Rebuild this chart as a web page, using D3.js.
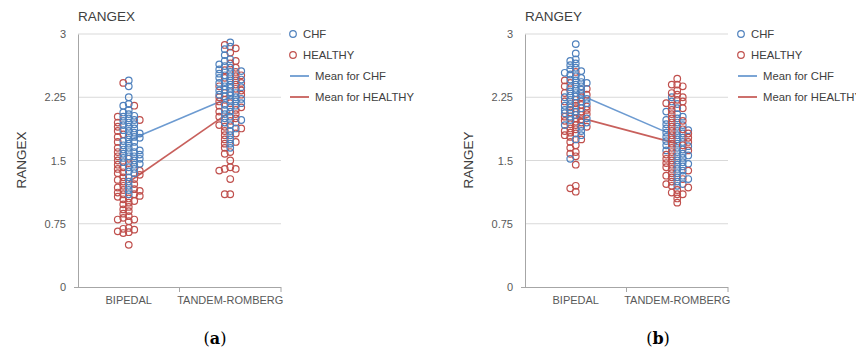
<!DOCTYPE html>
<html>
<head>
<meta charset="utf-8">
<script src="https://cdn.jsdelivr.net/npm/d3@7"></script>
<style>
  body { margin: 0; background: #fff; }
  svg { display: block; font-family: "Liberation Sans", Arial, sans-serif; }
</style>
</head>
<body>
<svg id="chart" width="856" height="350"></svg>
<script>
// ---------------- DATA ----------------
const categories = ["BIPEDAL", "TANDEM-ROMBERG"];
const seriesNames = ["CHF", "HEALTHY"];
const meanNames = ["Mean for CHF", "Mean for HEALTHY"];
const yTicks = [0, 0.75, 1.5, 2.25, 3];

// Panel (a) RANGEX
const rangexBipedalCHF = [2.45, 2.38, 2.25, 2.17, 2.15, 2.1, 2.07, 2.05, 2.03, 2.02, 2.0, 1.98, 1.97, 1.95, 1.93, 1.92, 1.9, 1.88, 1.86, 1.85, 1.83, 1.82, 1.8, 1.78, 1.77, 1.75, 1.73, 1.72, 1.7, 1.68, 1.66, 1.65, 1.63, 1.62, 1.6, 1.6, 1.58, 1.57, 1.55, 1.55, 1.53, 1.52, 1.5, 1.48, 1.46, 1.45, 1.42, 1.4, 1.37, 1.35, 1.3, 1.25, 1.2, 1.15, 1.1];
const rangexBipedalHealthy = [2.42, 2.15, 2.02, 1.98, 1.95, 1.9, 1.85, 1.81, 1.78, 1.72, 1.65, 1.6, 1.55, 1.52, 1.5, 1.47, 1.45, 1.42, 1.4, 1.38, 1.36, 1.35, 1.33, 1.3, 1.28, 1.27, 1.25, 1.22, 1.2, 1.18, 1.16, 1.15, 1.14, 1.12, 1.1, 1.1, 1.08, 1.07, 1.05, 1.04, 1.02, 1.0, 0.98, 0.95, 0.92, 0.9, 0.87, 0.84, 0.82, 0.8, 0.8, 0.78, 0.7, 0.69, 0.68, 0.66, 0.65, 0.64, 0.5];
const rangexTandemCHF = [2.9, 2.85, 2.82, 2.75, 2.7, 2.68, 2.64, 2.62, 2.6, 2.58, 2.56, 2.55, 2.53, 2.51, 2.5, 2.48, 2.46, 2.45, 2.43, 2.42, 2.4, 2.38, 2.37, 2.36, 2.34, 2.33, 2.31, 2.3, 2.28, 2.27, 2.26, 2.25, 2.23, 2.22, 2.2, 2.18, 2.16, 2.15, 2.13, 2.1, 2.08, 2.05, 2.02, 2.0, 1.98, 1.95, 1.92, 1.88, 1.85, 1.8, 1.75, 1.7, 1.65];
const rangexTandemHealthy = [2.87, 2.83, 2.78, 2.68, 2.65, 2.6, 2.57, 2.55, 2.51, 2.5, 2.48, 2.45, 2.42, 2.4, 2.38, 2.35, 2.33, 2.3, 2.28, 2.25, 2.22, 2.2, 2.18, 2.15, 2.13, 2.1, 2.08, 2.05, 2.02, 2.0, 1.97, 1.95, 1.92, 1.9, 1.88, 1.85, 1.82, 1.8, 1.75, 1.72, 1.7, 1.65, 1.6, 1.58, 1.5, 1.42, 1.4, 1.4, 1.38, 1.28, 1.1, 1.1];
const rangexMeanCHF = [1.74, 2.25];
const rangexMeanHealthy = [1.245, 2.08];

// Panel (b) RANGEY
const rangeyBipedalCHF = [2.88, 2.77, 2.7, 2.68, 2.65, 2.63, 2.6, 2.58, 2.56, 2.54, 2.52, 2.5, 2.48, 2.46, 2.45, 2.43, 2.42, 2.4, 2.38, 2.37, 2.35, 2.34, 2.32, 2.3, 2.29, 2.27, 2.26, 2.25, 2.23, 2.22, 2.2, 2.18, 2.17, 2.15, 2.13, 2.12, 2.1, 2.08, 2.06, 2.04, 2.02, 2.0, 1.98, 1.95, 1.92, 1.9, 1.85, 1.8, 1.75, 1.52];
const rangeyBipedalHealthy = [2.55, 2.45, 2.42, 2.38, 2.35, 2.3, 2.28, 2.25, 2.22, 2.2, 2.18, 2.16, 2.15, 2.14, 2.12, 2.1, 2.1, 2.08, 2.07, 2.05, 2.04, 2.02, 2.0, 1.99, 1.97, 1.96, 1.95, 1.93, 1.92, 1.9, 1.88, 1.87, 1.85, 1.83, 1.82, 1.8, 1.78, 1.75, 1.72, 1.68, 1.65, 1.6, 1.58, 1.55, 1.45, 1.2, 1.17, 1.13];
const rangeyTandemCHF = [2.25, 2.2, 2.17, 2.12, 2.08, 2.05, 2.02, 2.0, 1.98, 1.95, 1.93, 1.92, 1.9, 1.88, 1.86, 1.85, 1.83, 1.82, 1.8, 1.78, 1.77, 1.75, 1.73, 1.72, 1.7, 1.68, 1.67, 1.65, 1.63, 1.62, 1.6, 1.58, 1.56, 1.55, 1.53, 1.5, 1.48, 1.46, 1.45, 1.43, 1.4, 1.38, 1.35, 1.32, 1.3, 1.28, 1.25, 1.22, 1.2];
const rangeyTandemHealthy = [2.47, 2.4, 2.4, 2.38, 2.33, 2.3, 2.28, 2.25, 2.22, 2.2, 2.18, 2.15, 2.12, 2.1, 2.05, 2.0, 1.97, 1.95, 1.9, 1.87, 1.85, 1.82, 1.8, 1.77, 1.75, 1.72, 1.7, 1.68, 1.65, 1.62, 1.6, 1.57, 1.55, 1.52, 1.5, 1.47, 1.45, 1.42, 1.4, 1.38, 1.35, 1.32, 1.3, 1.28, 1.25, 1.22, 1.2, 1.18, 1.15, 1.12, 1.1, 1.1, 1.05, 1.0];
const rangeyMeanCHF = [2.3, 1.78];
const rangeyMeanHealthy = [2.02, 1.7];

// ---------------- DRAW ----------------
const colors = { CHF: "#4f81bd", HEALTHY: "#c0504d" };
const lineColors = { CHF: "#6d9bd1", HEALTHY: "#c8605c" };
const svg = d3.select("#chart");

function drawPanel(cfg) {
  const g = svg.append("g");
  const x = d3.scaleBand().domain(categories).range([cfg.left, cfg.right]);
  const y = d3.scaleLinear().domain([0, 3]).range([287, 34]);

  // gridlines
  g.append("g").selectAll("line").data(yTicks.filter(t => t > 0)).join("line")
    .attr("x1", cfg.left).attr("x2", cfg.right)
    .attr("y1", d => y(d)).attr("y2", d => y(d))
    .attr("stroke", "#d9d9d9").attr("stroke-width", 1);

  // y axis
  const yAxis = d3.axisLeft(y).tickValues(yTicks).tickSize(0).tickPadding(12)
    .tickFormat(d => d3.format("~g")(d));
  const ya = g.append("g").attr("transform", `translate(${cfg.left},0)`).call(yAxis);
  ya.select(".domain").attr("stroke", "#a6a6a6");
  ya.selectAll("text").attr("fill", "#595959").style("font-size", "11px")
    .style("font-family", "Liberation Sans, Arial, sans-serif");

  // x axis
  const xa = g.append("g").attr("transform", `translate(0,287)`);
  xa.append("line").attr("x1", cfg.left - 4).attr("x2", cfg.right)
    .attr("y1", 0.5).attr("y2", 0.5).attr("stroke", "#a6a6a6");
  xa.selectAll("line.tick").data(categories).join("line").attr("class", "tick")
    .attr("x1", d => x(d) + x.bandwidth()).attr("x2", d => x(d) + x.bandwidth())
    .attr("y1", 0).attr("y2", 5).attr("stroke", "#a6a6a6");
  xa.selectAll("text").data(categories).join("text")
    .attr("x", d => x(d) + x.bandwidth() / 2).attr("y", 17)
    .attr("text-anchor", "middle").attr("fill", "#595959")
    .style("font-size", "11px").text(d => d);

  // title & y label
  g.append("text").attr("x", cfg.left).attr("y", 21).attr("fill", "#404040")
    .style("font-size", "13.5px").text(cfg.title);
  g.append("text").attr("transform", `translate(${cfg.left - 52},160) rotate(-90)`)
    .attr("text-anchor", "middle").attr("fill", "#404040")
    .style("font-size", "13.5px").text(cfg.title);

  // mean lines
  const line = d3.line().x(d => x(d.c) + x.bandwidth() / 2).y(d => y(d.v));
  [["CHF", cfg.meanCHF], ["HEALTHY", cfg.meanHealthy]].forEach(([s, m]) => {
    g.append("path").datum(categories.map((c, i) => ({ c, v: m[i] })))
      .attr("d", line).attr("fill", "none")
      .attr("stroke", lineColors[s]).attr("stroke-width", 1.6);
  });

  // points with a compact column beeswarm per category
  const colStep = 5.5, sep = 4;
  const offsets = [0, -1, 1, -2, 2];
  categories.forEach((c, ci) => {
    const pts = [];
    cfg.points[ci].forEach((vals, si) => vals.forEach((v, k) => pts.push({ s: seriesNames[si], v, k })));
    pts.sort((a, b) => d3.descending(a.v, b.v));
    const last = new Map();
    pts.forEach(p => {
      const py = y(p.v);
      let chosen = null, bestGap = -1, bestCol = 0;
      for (const o of offsets) {
        const gap = last.has(o) ? py - last.get(o) : Infinity;
        if (gap >= sep) { chosen = o; break; }
        if (gap > bestGap) { bestGap = gap; bestCol = o; }
      }
      if (chosen === null) chosen = bestCol;
      last.set(chosen, py);
      p.cx = x(c) + x.bandwidth() / 2 + chosen * colStep;
      p.cy = py;
    });
    pts.sort((a, b) => d3.ascending(a.k, b.k) || d3.ascending(a.s, b.s));
    g.append("g").selectAll("circle").data(pts).join("circle")
      .attr("cx", d => d.cx).attr("cy", d => d.cy).attr("r", 3.3)
      .attr("fill", "none").attr("stroke", d => colors[d.s]).attr("stroke-width", 1.2);
  });

  // legend
  const lg = g.append("g");
  const rows = [0, 21, 42, 63];
  seriesNames.forEach((s, i) => {
    lg.append("circle").attr("cx", cfg.legX + 3).attr("cy", 34 + rows[i]).attr("r", 3.3)
      .attr("fill", "none").attr("stroke", colors[s]).attr("stroke-width", 1.2);
    lg.append("text").attr("x", cfg.legX + 13).attr("y", 38 + rows[i])
      .attr("fill", "#404040").style("font-size", "11.3px").text(s);
  });
  meanNames.forEach((s, i) => {
    const key = seriesNames[i];
    lg.append("line").attr("x1", cfg.legX).attr("x2", cfg.legX + 19)
      .attr("y1", 34 + rows[i + 2]).attr("y2", 34 + rows[i + 2])
      .attr("stroke", lineColors[key]).attr("stroke-width", 1.8);
    lg.append("text").attr("x", cfg.legX + 25).attr("y", 38 + rows[i + 2])
      .attr("fill", "#404040").style("font-size", "11.3px").text(s);
  });

  // caption
  const cap = g.append("text").attr("x", cfg.capX).attr("y", 344).attr("text-anchor", "middle")
    .attr("fill", "#000").style("font-family", "DejaVu Serif, Liberation Serif, serif")
    .style("font-size", "16px");
  cap.append("tspan").text("(");
  cap.append("tspan").attr("font-weight", "bold").text(cfg.caption);
  cap.append("tspan").text(")");
}

drawPanel({
  title: "RANGEX", left: 78, right: 281, legX: 290, capX: 215, caption: "a",
  points: [[rangexBipedalCHF, rangexBipedalHealthy], [rangexTandemCHF, rangexTandemHealthy]],
  meanCHF: rangexMeanCHF, meanHealthy: rangexMeanHealthy
});
drawPanel({
  title: "RANGEY", left: 525, right: 728, legX: 738, capX: 658, caption: "b",
  points: [[rangeyBipedalCHF, rangeyBipedalHealthy], [rangeyTandemCHF, rangeyTandemHealthy]],
  meanCHF: rangeyMeanCHF, meanHealthy: rangeyMeanHealthy
});
</script>
</body>
</html>
